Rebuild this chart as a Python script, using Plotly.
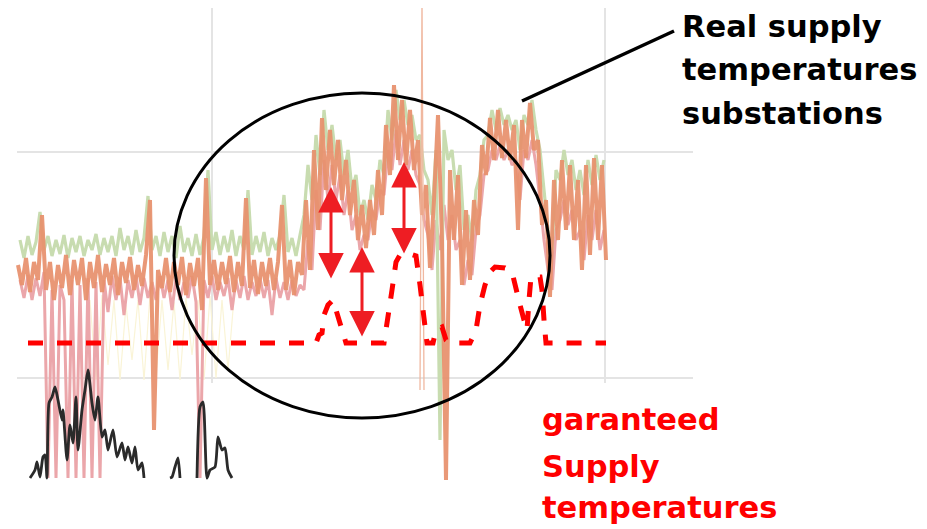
import plotly.graph_objects as go

# ---------------- data (time index, supply temperature in degC) ----------------
# main substation supply temperature (orange), sampled every 4 steps from t=18
orange_T = [
    73.5, 71.5, 74.2, 70.8, 73.8, 72.0, 78.5, 71.0, 73.8, 70.0,
    73.5, 71.2, 74.5, 70.5, 74.0, 71.5, 74.2, 70.0, 73.8, 71.2,
    74.5, 70.8, 73.6, 71.5, 74.2, 70.5, 73.8, 71.7, 74.3, 71.0,
    73.5, 71.4, 74.5, 80.0, 57.0, 73.0, 71.2, 74.2, 70.8, 73.8,
    71.5, 74.3, 70.5, 73.7, 71.4, 74.2, 69.0, 82.2, 71.5, 74.0,
    71.0, 73.8, 71.6, 74.4, 70.8, 73.8, 71.4, 80.2, 71.2, 74.0,
    70.6, 73.8, 71.4, 74.2, 71.0, 73.8, 79.5, 71.0, 74.0, 70.5,
    73.8,
    72.5, 80.0, 73.0, 85.0, 77.0, 88.2, 81.0, 87.0, 81.5,
    86.0, 80.0, 84.0, 78.5, 82.0, 76.0, 79.5, 75.2, 80.0, 76.5,
    83.0, 78.5, 87.5, 82.5, 91.5, 84.0, 90.0, 83.5, 89.0, 83.0,
    86.0, 78.5, 81.5, 73.2, 80.0, 88.5, 76.0, 52.0, 83.0, 76.0,
    82.5, 71.5, 79.0, 72.0, 80.0, 76.5, 85.5, 82.5, 88.2, 84.0,
    89.0, 84.2, 88.0, 84.0, 87.5, 77.0, 88.0, 84.2, 89.7, 85.0,
    86.0, 77.5, 80.0, 70.3, 82.0, 76.0, 84.0, 77.0, 83.5, 76.0,
    82.0, 73.0, 83.5, 74.5, 84.2, 76.0, 83.5, 74.0,
]
orange_t0, step = 18, 4

# second substation (green), sampled every 4 steps from t=20
green_T = [
    76.0, 74.2, 76.4, 74.5, 75.8, 78.8, 75.0, 76.4, 74.4, 76.0,
    74.6, 76.5, 74.2, 76.2, 74.8, 76.4, 74.4, 76.0, 75.0, 76.6,
    74.5, 76.2, 74.8, 76.4, 74.4, 77.2, 75.0, 76.4, 74.5, 77.0,
    74.8, 76.2, 80.4, 75.0, 76.4, 74.4, 76.8, 74.8, 76.4, 74.2,
    77.4, 74.8, 76.2, 74.4, 76.6, 74.5, 76.4, 83.0, 75.0, 76.8,
    74.5, 76.4, 74.8, 77.0, 74.4, 76.4, 75.0, 81.0, 74.5, 76.4,
    74.8, 76.8, 74.4, 76.2, 75.0, 76.5, 80.5, 74.8, 76.2, 74.4,
    76.5, 78.5, 83.5, 80.0, 86.5, 82.5, 89.0, 85.0, 87.5, 84.0,
    86.0, 82.5, 85.0, 81.0, 82.5, 78.5, 80.0, 78.0, 81.5, 80.0,
    84.0, 82.5, 89.0, 86.0, 91.0, 88.0, 90.0, 87.5, 88.5, 86.0,
    86.5, 83.0, 82.0, 78.5, 85.0, 56.0, 87.0, 84.0, 85.0, 81.0,
    83.5, 77.0, 78.5, 76.0, 81.0, 82.5, 86.0, 86.5, 89.0, 87.0,
    89.2, 87.5, 88.5, 87.0, 88.0, 85.0, 88.5, 87.5, 90.0, 87.0,
    85.0, 81.0, 77.0, 75.0, 83.0, 82.0, 85.0, 82.5, 84.0, 81.0,
    83.0, 80.5, 84.0, 81.5, 84.5, 82.0, 84.0,
]
green_t0 = 20

# third substation (pink), sampled every 4 steps from t=20
pink_T = [
    72.0, 70.2, 72.5, 70.0, 72.2, 70.4, 72.8, 52.2, 71.0, 52.2,
    71.5, 70.0, 52.2, 72.0, 52.2, 71.5, 52.2, 72.2, 52.2, 71.8,
    52.2, 72.0, 68.8, 72.4, 70.0, 72.2, 68.5, 72.0, 70.2, 72.5,
    69.5, 72.2, 70.2, 71.8, 70.0, 72.4, 70.2, 72.0, 69.0, 72.2,
    70.0, 71.8, 70.2, 72.4, 69.8, 52.2, 72.0, 70.2, 72.4, 70.0,
    71.8, 70.4, 72.2, 69.0, 72.0, 70.2, 72.4, 70.0, 71.8, 70.4,
    72.2, 70.2, 72.0, 68.5, 72.2, 70.2, 71.8, 70.0, 72.0, 70.4,
    71.5, 71.0, 76.0, 73.0, 81.0, 77.0, 84.0, 80.0, 83.5, 80.0,
    82.5, 78.5, 81.0, 77.0, 78.5, 75.0, 76.5, 76.0, 79.0, 78.0,
    81.0, 80.5, 85.0, 83.0, 87.0, 83.5, 86.0, 83.0, 85.0, 82.5,
    81.5, 78.0, 76.5, 73.0, 78.0, 75.0, 79.5, 76.0, 78.5, 75.0,
    76.0, 71.5, 74.0, 72.5, 77.0, 78.5, 82.5, 83.0, 85.0, 84.0,
    85.5, 84.0, 85.0, 83.5, 84.0, 80.0, 85.0, 84.0, 86.0, 83.5,
    80.0, 76.0, 73.0, 71.0, 77.0, 78.0, 80.0, 77.5, 79.0, 76.0,
    77.0, 74.0, 78.5, 76.0, 79.0, 75.0, 77.0,
]
pink_t0 = 20

# faint fourth substation (pale yellow), every 6 steps from t=90
yellow_T = [70.0, 62.0, 70.5, 63.5, 70.0, 62.0, 69.5, 64.0, 70.0, 62.0,
            70.5, 62.5, 70.0, 63.0, 69.8, 62.0, 70.2, 64.5, 70.0, 62.0,
            70.4, 62.2, 70.0, 63.0, 70.2]
yellow_t0, yellow_step = 90, 6

# single outlier reading
outlier_t = [420, 422, 424]
outlier_T = [61.0, 100.0, 61.0]

# guaranteed supply temperature
guar_t = [28, 316, 319, 322, 324, 328, 333, 336, 340, 343,
          346, 384, 388, 392, 396, 400, 410, 416, 420, 424,
          427, 433, 436, 442, 446, 450, 470, 476, 480, 485,
          490, 495, 505, 512, 516, 520, 524, 527, 529, 531,
          540, 542, 544, 546, 606]
guar_T = [65.7, 65.7, 66.5, 66.7, 68.5, 69.5, 70.0, 69.0, 67.5, 66.3,
          65.7, 65.7, 68.0, 71.0, 73.8, 74.5, 74.6, 74.4, 71.5, 68.5,
          65.7, 65.7, 67.0, 67.3, 66.0, 65.7, 65.7, 67.0, 69.5, 71.5,
          72.8, 73.3, 73.2, 72.8, 71.0, 69.5, 68.0, 67.0, 70.0, 72.3,
          72.3, 71.0, 68.0, 65.7, 65.7]

# black curve (secondary quantity)
black_t = [30, 35, 37, 40, 43, 45, 47, 49, 52, 55, 58, 62, 63, 67, 70, 73, 76, 78,
           82, 85, 88, 92, 95, 98, 102, 105, 108, 113, 117, 122, 125, 128, 132,
           135, 138, 142, 144, None,
           170, 172, 175, 178, 180, None,
           197, 200, 203, 207, 210, 215, 218, 222, 225, 228, 232]
black_v = [0, 0.8, 1.6, 0.1, 2.1, 2.3, 0, 7.5, 8.1, 9.1, 7.8, 5.8, 6.8, 1.8, 5.3, 3.5, 8.1, 2.8,
           6.8, 8.8, 10.8, 7.5, 5.8, 8.1, 4.1, 4.8, 2.8, 4.8, 2.1, 3.5, 1.8, 3.1, 1.5,
           3.1, 0.8, 1.5, 0, None,
           0, 0.1, 1.1, 2.0, 0, None,
           0, 7.1, 7.6, 0, 0.8, 1.1, 4.1, 2.8, 3.0, 0.8, 0]

grid_t = [212, 605]
grid_T = [84.8, 62.2]

# double arrows: (t, upper T, lower T)
arrows = [(331, 81.3, 72.0), (362, 75.3, 66.2), (404, 83.8, 74.5)]

label_black = ["Real supply", "temperatures", "substations"]
label_red = ["garanteed", "Supply", "temperatures"]

# ---------------- figure ----------------
def tgrid(t0, st, n):
    return list(range(t0, t0 + st * n, st))

fig = go.Figure()
fig.add_trace(go.Scatter(x=tgrid(yellow_t0, yellow_step, len(yellow_T)), y=yellow_T,
                         mode="lines", line=dict(color="#faf4d6", width=1.2), hoverinfo="skip"))
fig.add_trace(go.Scatter(x=tgrid(pink_t0, step, len(pink_T)), y=pink_T,
                         mode="lines", line=dict(color="#eba6aa", width=3), hoverinfo="skip"))
fig.add_trace(go.Scatter(x=tgrid(green_t0, step, len(green_T)), y=green_T,
                         mode="lines", line=dict(color="#c8dcb0", width=3.2), hoverinfo="skip"))
fig.add_trace(go.Scatter(x=tgrid(orange_t0, step, len(orange_T)), y=orange_T,
                         mode="lines", line=dict(color="#e8916d", width=4), opacity=0.93,
                         hoverinfo="skip"))
fig.add_trace(go.Scatter(x=outlier_t, y=outlier_T, mode="lines",
                         line=dict(color="#f0b8a0", width=1.3), hoverinfo="skip"))
fig.add_trace(go.Scatter(x=black_t, y=black_v, yaxis="y2", mode="lines",
                         line=dict(color="#2a2a2a", width=2.8, shape="spline", smoothing=0.6),
                         connectgaps=False, hoverinfo="skip"))
fig.add_trace(go.Scatter(x=guar_t, y=guar_T, mode="lines",
                         line=dict(color="#ff0000", width=5, dash="15px,14px"),
                         hoverinfo="skip"))

shapes = []
for T in grid_T:
    shapes.append(dict(type="line", xref="x", yref="y", x0=17, x1=693, y0=T, y1=T,
                       line=dict(color="#e4e4e4", width=2), layer="below"))
for t in grid_t:
    shapes.append(dict(type="line", xref="x", yref="y", x0=t, x1=t, y0=99.5, y1=61.7,
                       line=dict(color="#e4e4e4", width=2), layer="below"))
shapes.append(dict(type="circle", xref="x", yref="y", x0=174, x1=550, y0=58.2, y1=90.7,
                   line=dict(color="black", width=3), layer="above"))
shapes.append(dict(type="line", xref="x", yref="y", x0=522, y0=89.9, x1=674, y1=96.9,
                   line=dict(color="black", width=3.5), layer="above"))

annotations = []
for t, hi, lo in arrows:
    annotations.append(dict(x=t, y=hi, ax=t, ay=lo, xref="x", yref="y", axref="x", ayref="y",
                            text="", showarrow=True, arrowside="end+start",
                            arrowhead=2, startarrowhead=2, arrowsize=1.7, startarrowsize=1.7,
                            arrowwidth=3, arrowcolor="#ee1d23", standoff=0, startstandoff=0))
for txt, yc in zip(label_black, [97.4, 93.1, 88.7]):
    annotations.append(dict(x=680, y=yc, xref="x", yref="y", text=txt, showarrow=False,
                            xanchor="left", yanchor="middle",
                            font=dict(family="DejaVu Sans", size=30.5, color="black", weight="bold")))
for txt, yc in zip(label_red, [58.05, 53.35, 49.25]):
    annotations.append(dict(x=540, y=yc, xref="x", yref="y", text=txt, showarrow=False,
                            xanchor="left", yanchor="middle",
                            font=dict(family="DejaVu Sans", size=30.5, color="#ff0000", weight="bold")))

# the page adds an 8px body margin, so the axis windows are offset by 8 px
fig.update_layout(
    width=927, height=529,
    margin=dict(l=0, r=0, t=0, b=0, pad=0),
    paper_bgcolor="white", plot_bgcolor="white",
    showlegend=False,
    xaxis=dict(range=[8, 935], visible=False, fixedrange=True),
    yaxis=dict(range=[46.3, 99.2], visible=False, fixedrange=True),
    yaxis2=dict(range=[-5.9, 47.0], overlaying="y", visible=False, fixedrange=True),
    shapes=shapes,
    annotations=annotations,
)

fig.write_html("out.html")
